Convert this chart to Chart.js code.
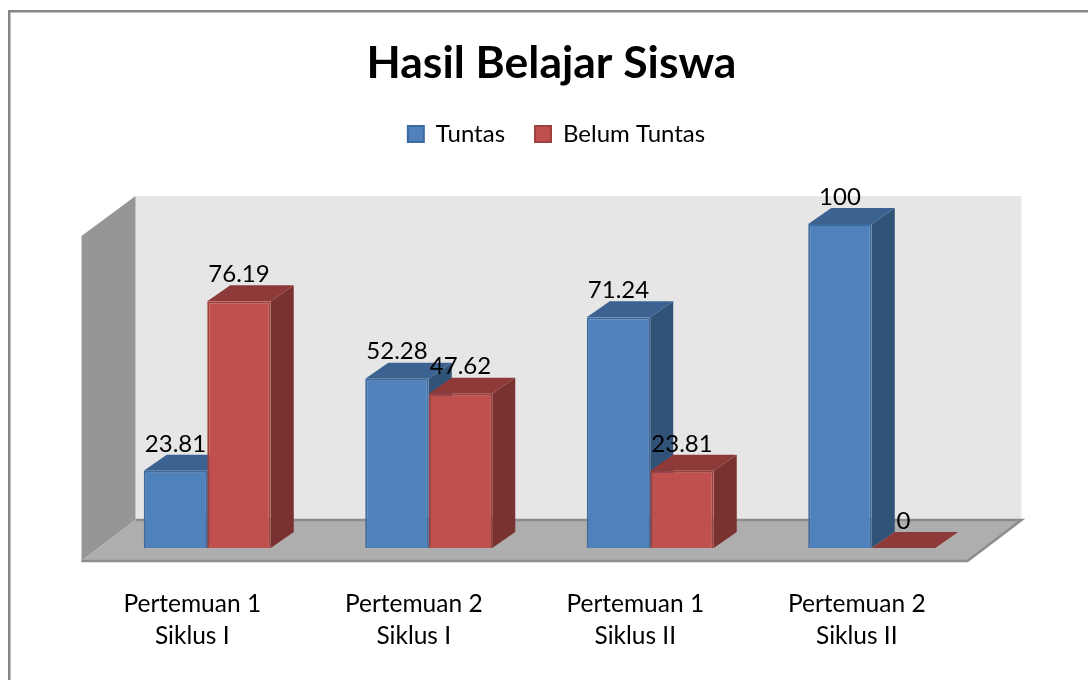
<!DOCTYPE html>
<html>
<head>
<meta charset="utf-8">
<title>Hasil Belajar Siswa</title>
<script src="https://cdn.jsdelivr.net/npm/chart.js@4"></script>
<style>
  html, body { margin: 0; padding: 0; background: #fff; overflow: hidden; }
  canvas { display: block; }
</style>
</head>
<body>
<canvas id="chart" width="1088" height="680"></canvas>
<script>
// Chart data
const categories = [
    ['Pertemuan 1', 'Siklus I'],
    ['Pertemuan 2', 'Siklus I'],
    ['Pertemuan 1', 'Siklus II'],
    ['Pertemuan 2', 'Siklus II']
];
const tuntas = [23.81, 52.28, 71.24, 100];
const belumTuntas = [76.19, 47.62, 23.81, 0];

const fontName = 'Lato';

// Face colours of the 3D bars, by dataset
const faces = [
    { side: '#315378', top: '#3b6291' },
    { side: '#7a3230', top: '#8e3a38' }
];

function poly(ctx, color, pts) {
    ctx.fillStyle = color;
    ctx.beginPath();
    pts.forEach((p, i) => i ? ctx.lineTo(p[0], p[1]) : ctx.moveTo(p[0], p[1]));
    ctx.closePath();
    ctx.fill();
}

// Outer frame, walls and floor, all placed from the scales
const backdrop = {
    id: 'backdrop',
    afterLayout(chart) {
        // title and legend sit a little right of the canvas centre
        chart.titleBlock.left += 12;
        chart.titleBlock.right += 12;
        chart.legend.left += 17;
        chart.legend.right += 17;
    },
    beforeDatasetsDraw(chart) {
        const ctx = chart.ctx;
        const x = chart.scales.x, y = chart.scales.y;
        const base = y.getPixelForValue(0), top = y.getPixelForValue(100);
        const fl = x.left - 15, fr = x.right - 15, fy = base + 13;
        const bl = fl + 54, br = fr + 54, by = base - 28;
        const wallTop = top - 28;

        ctx.save();
        ctx.fillStyle = '#868686';
        ctx.fillRect(8, 10, 2.5, 670);
        ctx.fillRect(8, 10, 1080, 2.5);

        poly(ctx, '#e6e6e6', [[bl, wallTop], [br, wallTop], [br, by], [bl, by]]);
        poly(ctx, '#969696', [[fl, top + 12], [bl, wallTop], [bl, by], [fl, fy]]);
        poly(ctx, '#aeaeae', [[bl, by], [br, by], [fr, fy], [fl, fy]]);

        ctx.strokeStyle = '#8c8c8c';
        ctx.lineWidth = 2.5;
        ctx.beginPath();
        ctx.moveTo(fl, fy);
        ctx.lineTo(fr, fy);
        ctx.lineTo(br, by);
        ctx.lineTo(bl, by);
        ctx.stroke();

        // depth faces, first series first so the second one covers it
        const dx = 23, dy = -16;
        chart.data.datasets.forEach((ds, i) => {
            chart.getDatasetMeta(i).data.forEach(bar => {
                const l = bar.x - bar.width / 2, r = bar.x + bar.width / 2;
                poly(ctx, faces[i].side, [[r, bar.y], [r + dx, bar.y + dy], [r + dx, bar.base + dy], [r, bar.base]]);
                poly(ctx, faces[i].top, [[l, bar.y], [l + dx, bar.y + dy], [r + dx, bar.y + dy], [r, bar.y]]);
            });
        });
        ctx.restore();
    },
    afterDatasetsDraw(chart) {
        // value labels
        const ctx = chart.ctx;
        ctx.save();
        ctx.font = '24px ' + fontName;
        ctx.fillStyle = '#000';
        ctx.textAlign = 'center';
        ctx.textBaseline = 'middle';
        chart.data.datasets.forEach((ds, i) => {
            chart.getDatasetMeta(i).data.forEach((bar, j) => {
                ctx.fillText(String(ds.data[j]), bar.x, bar.y - 27);
            });
        });
        ctx.restore();
    }
};

let ctx = document.getElementById('chart').getContext('2d');
let myChart = new Chart(ctx, {
    type: 'bar',
    data: {
        labels: categories,
        datasets: [
            {
                label: 'Tuntas',
                data: tuntas,
                backgroundColor: '#4f81bd',
                borderColor: '#3d6a9f',
                borderWidth: 2
            },
            {
                label: 'Belum Tuntas',
                data: belumTuntas,
                backgroundColor: '#c0504d',
                borderColor: '#9e413e',
                borderWidth: 2
            }
        ]
    },
    options: {
        responsive: false,
        animation: false,
        layout: { padding: { left: 96.5, right: 105.5, top: 0, bottom: 0 } },
        categoryPercentage: 0.5734,
        barPercentage: 1,
        plugins: {
            title: {
                display: true,
                text: 'Hasil Belajar Siswa',
                color: '#000',
                font: { family: fontName, size: 44.5, weight: 'bold' },
                padding: { top: 37, bottom: 1.6 }
            },
            legend: {
                position: 'top',
                labels: {
                    color: '#000',
                    font: { family: fontName, size: 24 },
                    boxWidth: 16,
                    boxHeight: 16,
                    padding: 30
                }
            },
            tooltip: { enabled: false }
        },
        scales: {
            x: {
                grid: { display: false },
                border: { display: false },
                afterFit: s => { s.height = 132; },
                ticks: {
                    color: '#000',
                    maxRotation: 0,
                    padding: 32,
                    labelOffset: -15,
                    font: { family: fontName, size: 24.5, lineHeight: 1.3 }
                }
            },
            y: { display: false, min: 0, max: 121 }
        }
    },
    plugins: [backdrop]
});
</script>
</body>
</html>
